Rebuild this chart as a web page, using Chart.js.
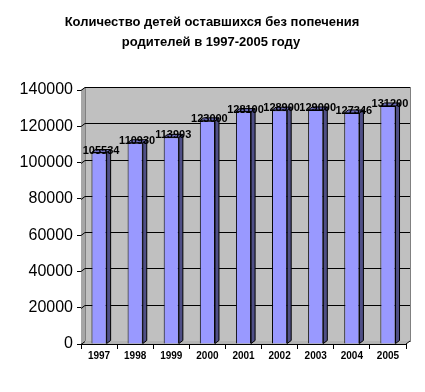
<!DOCTYPE html>
<html>
<head>
<meta charset="utf-8">
<script src="https://cdn.jsdelivr.net/npm/chart.js@4"></script>
<style>
  body { margin: 0; background: #fff; }
</style>
</head>
<body>
<canvas id="chart" width="425" height="392"></canvas>
<script>
// Chart data
const years = ['1997', '1998', '1999', '2000', '2001', '2002', '2003', '2004', '2005'];
const counts = [105534, 110930, 113903, 123000, 128100, 128900, 129000, 127346, 131200];
const yTicks = [0, 20000, 40000, 60000, 80000, 100000, 120000, 140000];
const titleLines = ['Количество детей оставшихся без попечения', 'родителей в 1997-2005 году'];

// depth of the fake 3D look
const DX = 4, DY = -3;

// Draws the title, the walls and back grid, then the side/top faces and value labels
const pseudo3d = {
    id: 'pseudo3d',
    beforeDatasetsDraw(chart) {
        const { ctx, chartArea: a, scales: { y } } = chart;
        ctx.save();
        // left wall
        ctx.fillStyle = '#a6a6a6';
        ctx.beginPath();
        ctx.moveTo(a.left, a.top);
        ctx.lineTo(a.left + DX, a.top + DY);
        ctx.lineTo(a.left + DX, a.bottom + DY);
        ctx.lineTo(a.left, a.bottom);
        ctx.closePath();
        ctx.fill();
        // back wall
        ctx.fillStyle = '#c0c0c0';
        ctx.fillRect(a.left + DX, a.top + DY, a.right - a.left, a.bottom - a.top);
        ctx.strokeStyle = '#808080';
        ctx.lineWidth = 1;
        ctx.strokeRect(a.left + DX + 0.5, a.top + DY + 0.5, a.right - a.left, a.bottom - a.top);
        // floor
        ctx.fillStyle = '#b4b4b4';
        ctx.beginPath();
        ctx.moveTo(a.left, a.bottom);
        ctx.lineTo(a.left + DX, a.bottom + DY);
        ctx.lineTo(a.right + DX, a.bottom + DY);
        ctx.lineTo(a.right, a.bottom);
        ctx.closePath();
        ctx.fill();
        ctx.strokeStyle = '#000';
        ctx.beginPath();
        ctx.moveTo(a.right, a.bottom);
        ctx.lineTo(a.right + DX, a.bottom + DY);
        ctx.stroke();
        // grid on the back wall
        ctx.strokeStyle = '#000';
        yTicks.forEach(v => {
            const py = Math.round(y.getPixelForValue(v)) + 0.5;
            ctx.beginPath();
            ctx.moveTo(a.left, py);
            ctx.lineTo(a.left + DX, py + DY);
            if (v > 0) ctx.lineTo(a.right + DX, py + DY);
            ctx.stroke();
        });
        ctx.restore();
    },
    afterDatasetsDraw(chart) {
        const { ctx } = chart;
        const meta = chart.getDatasetMeta(0);
        ctx.save();
        meta.data.forEach((bar, i) => {
            const half = bar.width / 2;
            const l = bar.x - half, r = bar.x + half;
            const t = bar.y, b = bar.base;
            ctx.lineWidth = 1;
            ctx.strokeStyle = '#000';
            // side face
            ctx.fillStyle = '#4f4f86';
            ctx.beginPath();
            ctx.moveTo(r, t);
            ctx.lineTo(r + DX, t + DY);
            ctx.lineTo(r + DX, b + DY);
            ctx.lineTo(r, b);
            ctx.closePath();
            ctx.fill();
            ctx.stroke();
            // top face
            ctx.fillStyle = '#6d6db8';
            ctx.beginPath();
            ctx.moveTo(l, t);
            ctx.lineTo(l + DX, t + DY);
            ctx.lineTo(r + DX, t + DY);
            ctx.lineTo(r, t);
            ctx.closePath();
            ctx.fill();
            ctx.stroke();
            // value label
            ctx.fillStyle = '#000';
            ctx.font = 'bold 11px "Liberation Sans", Arial, sans-serif';
            ctx.textAlign = 'center';
            ctx.textBaseline = 'alphabetic';
            ctx.fillText(String(counts[i]), bar.x + 2, t + 1);
        });
        ctx.restore();
    },
    afterDraw(chart) {
        const { ctx } = chart;
        ctx.save();
        ctx.fillStyle = '#000';
        ctx.font = 'bold 13px "Liberation Sans", Arial, sans-serif';
        ctx.textAlign = 'center';
        ctx.textBaseline = 'middle';
        ctx.fillText(titleLines[0], 212, 22);
        ctx.fillText(titleLines[1], 211, 42);
        ctx.restore();
    }
};

const ctx = document.getElementById('chart').getContext('2d');
const chart = new Chart(ctx, {
    type: 'bar',
    data: {
        labels: years,
        datasets: [{
            data: counts,
            backgroundColor: '#9999ff',
            borderColor: '#000',
            borderWidth: 1,
            categoryPercentage: 1,
            barPercentage: 0.42
        }]
    },
    options: {
        responsive: false,
        animation: false,
        layout: { padding: { top: 90, right: 19, left: 0, bottom: 0 } },
        plugins: {
            legend: { display: false },
            tooltip: { enabled: false }
        },
        scales: {
            x: {
                afterFit: s => { s.height = 48; },
                grid: { display: true, drawOnChartArea: false, offset: true, color: '#000', tickLength: 5 },
                border: { display: true, color: '#000' },
                ticks: {
                    color: '#000',
                    padding: 1,
                    maxRotation: 0,
                    font: { family: '"Liberation Sans", Arial, sans-serif', size: 10, weight: 'bold' }
                }
            },
            y: {
                min: 0,
                max: 140000,
                afterFit: s => { s.width = 81; },
                afterBuildTicks: s => { s.ticks = yTicks.map(v => ({ value: v })); },
                grid: { display: true, drawOnChartArea: false, color: '#000', tickLength: 4 },
                border: { display: true, color: '#000' },
                ticks: {
                    color: '#000',
                    padding: 4,
                    callback: v => String(v),
                    font: { family: '"Liberation Sans", Arial, sans-serif', size: 16 }
                }
            }
        }
    },
    plugins: [pseudo3d]
});
</script>
</body>
</html>
